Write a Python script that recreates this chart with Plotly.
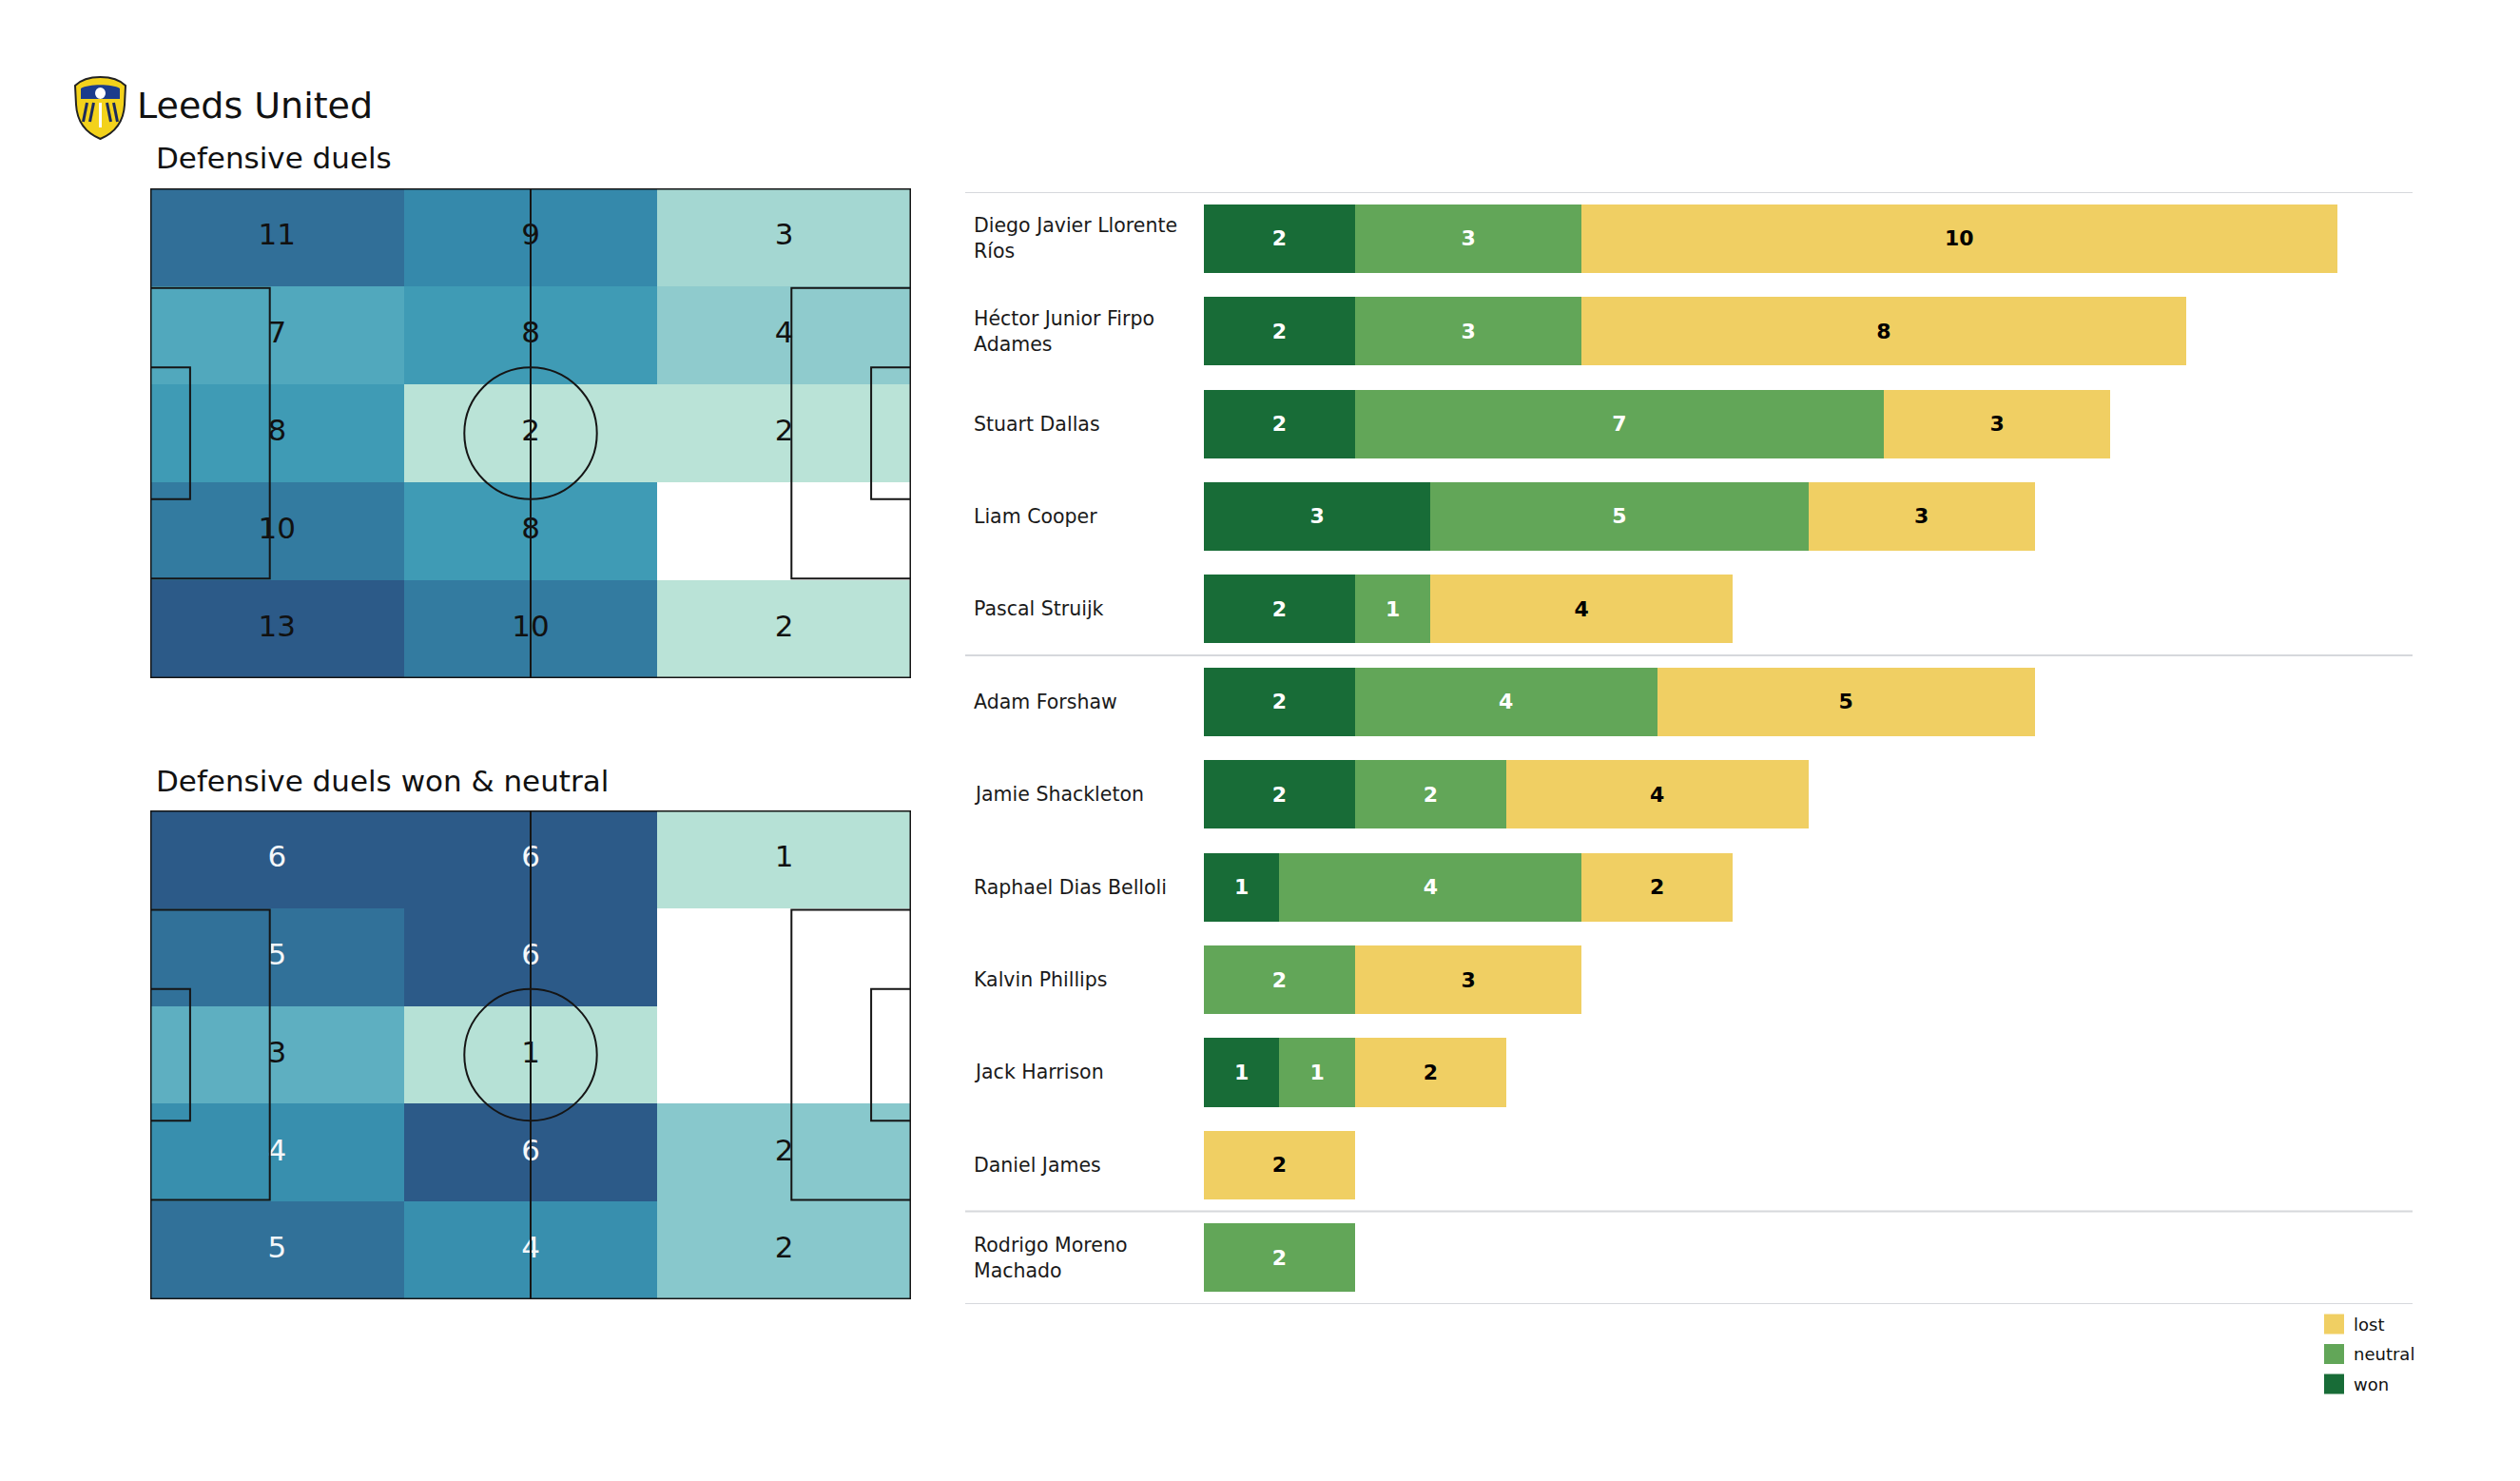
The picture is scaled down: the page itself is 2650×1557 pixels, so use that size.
import textwrap
import plotly.graph_objects as go

W, H = 2650, 1557

TEAM = "Leeds United"
MAP_TITLES = ["Defensive duels", "Defensive duels won & neutral"]

# zone grids: rows from top touchline to bottom, columns left to right
duels_all = [
    [11, 9, 3],
    [7, 8, 4],
    [8, 2, 2],
    [10, 8, 0],
    [13, 10, 2],
]
duels_won_neutral = [
    [6, 6, 1],
    [5, 6, 0],
    [3, 1, 0],
    [4, 6, 2],
    [5, 4, 2],
]

players = [
    "Diego Javier Llorente Ríos", "Héctor Junior Firpo Adames", "Stuart Dallas",
    "Liam Cooper", "Pascal Struijk", "Adam Forshaw", "Jamie Shackleton",
    "Raphael Dias Belloli", "Kalvin Phillips", "Jack Harrison", "Daniel James",
    "Rodrigo Moreno Machado",
]
groups = ["DF"] * 5 + ["MF"] * 6 + ["FW"]
won = [2, 2, 2, 3, 2, 2, 2, 1, 0, 1, 0, 0]
neutral = [3, 3, 7, 5, 1, 4, 2, 4, 2, 1, 0, 2]
lost = [10, 8, 3, 3, 4, 5, 4, 2, 3, 2, 2, 0]
series_names = ["won", "neutral", "lost"]

# ---------------------------------------------------------------- styling
FONT = "DejaVu Sans"
SERIES_COLORS = {"won": "#186c37", "neutral": "#62a658", "lost": "#f0cf63"}
SERIES_TEXT = {"won": "white", "neutral": "white", "lost": "black"}
HEAT_SCALE = [
    [0.0, "#d8f0e2"], [0.154, "#bae3d7"], [0.31, "#8ecbcd"], [0.5, "#5eafc1"],
    [0.54, "#50a8bd"], [0.615, "#3f9bb5"], [0.69, "#3589ab"], [0.77, "#337ba0"],
    [0.846, "#316f98"], [1.0, "#2c5a88"],
]
PITCH_L, PITCH_W = 105.0, 68.0
PEN_D, PEN_W = 16.5, 40.32
SIX_D, SIX_W = 5.5, 18.32
CIRCLE_R = 9.15
LINE = dict(color="#151515", width=2)
OFF = 8  # page body margin of the html page


def px(x):
    return (x - OFF) / W


def py(y):
    return 1 - (y - OFF) / H


def P(x, y):
    return f"{px(x):.5f},{py(y):.5f}"


fig = go.Figure()
shapes = []
annotations = []

# ---------------------------------------------------------------- pitches
pitch_boxes = [(198, 713), (852, 1366)]
pitch_grids = [duels_all, duels_won_neutral]
white_text_threshold = [None, 0.6]
ncols = len(duels_all[0])
nrows = len(duels_all)
x_edges = [PITCH_L * i / ncols for i in range(ncols + 1)]
y_edges = [PITCH_W * i / nrows for i in range(nrows + 1)]
x_cent = [(x_edges[i] + x_edges[i + 1]) / 2 for i in range(ncols)]
y_cent = [(y_edges[i] + y_edges[i + 1]) / 2 for i in range(nrows)]

layout_axes = {}
for k, (grid, (top, bottom)) in enumerate(zip(pitch_grids, pitch_boxes)):
    sfx = "" if k == 0 else str(k + 1)
    xref, yref = "x" + sfx, "y" + sfx
    layout_axes["xaxis" + sfx] = dict(domain=[px(158), px(958)], range=[0, PITCH_L],
                                      visible=False, fixedrange=True)
    layout_axes["yaxis" + sfx] = dict(domain=[py(bottom), py(top)], range=[0, PITCH_W],
                                      visible=False, fixedrange=True)
    rows_bottom_up = grid[::-1]
    zmax = max(max(r) for r in grid)
    z = [[v if v > 0 else None for v in r] for r in rows_bottom_up]
    fig.add_trace(go.Heatmap(
        x=x_edges, y=y_edges, z=z, zmin=0, zmax=zmax, colorscale=HEAT_SCALE,
        showscale=False, xaxis=xref, yaxis=yref, hoverinfo="skip", xgap=0, ygap=0,
        showlegend=False,
    ))
    tx, ty, tt, tc = [], [], [], []
    for r, row in enumerate(rows_bottom_up):
        for c, v in enumerate(row):
            if v <= 0:
                continue
            tx.append(x_cent[c])
            ty.append(y_cent[r])
            tt.append(str(v))
            thr = white_text_threshold[k]
            tc.append("#f4f7fa" if (thr is not None and v / zmax > thr) else "#111111")
    fig.add_trace(go.Scatter(
        x=tx, y=ty, text=tt, mode="text", textposition="middle center",
        textfont=dict(family=FONT, size=31, color=tc), xaxis=xref, yaxis=yref,
        showlegend=False, hoverinfo="skip",
    ))
    cy = PITCH_W / 2

    def rect(x0, y0, x1, y1, width=2):
        shapes.append(dict(type="rect", xref=xref, yref=yref, x0=x0, y0=y0, x1=x1, y1=y1,
                           line=dict(color="#151515", width=width),
                           fillcolor="rgba(0,0,0,0)", layer="above"))

    rect(0, cy - PEN_W / 2, PEN_D, cy + PEN_W / 2)
    rect(PITCH_L - PEN_D, cy - PEN_W / 2, PITCH_L, cy + PEN_W / 2)
    rect(0, cy - SIX_W / 2, SIX_D, cy + SIX_W / 2)
    rect(PITCH_L - SIX_D, cy - SIX_W / 2, PITCH_L, cy + SIX_W / 2)
    shapes.append(dict(type="line", xref=xref, yref=yref, x0=PITCH_L / 2, x1=PITCH_L / 2,
                       y0=0, y1=PITCH_W, line=LINE, layer="above"))
    shapes.append(dict(type="circle", xref=xref, yref=yref,
                       x0=PITCH_L / 2 - CIRCLE_R, x1=PITCH_L / 2 + CIRCLE_R,
                       y0=cy - CIRCLE_R, y1=cy + CIRCLE_R, line=LINE, layer="above"))
    rect(0, 0, PITCH_L, PITCH_W, width=3)

# ---------------------------------------------------------------- bars
values = {"won": won, "neutral": neutral, "lost": lost}
for s in series_names:
    vals = values[s]
    fig.add_trace(go.Bar(
        x=vals, y=players, orientation="h", name=s,
        marker=dict(color=SERIES_COLORS[s], line=dict(width=0)),
        text=[str(v) if v else "" for v in vals], textposition="inside",
        insidetextanchor="middle", textangle=0, constraintext="none",
        textfont=dict(family=FONT, size=22, color=SERIES_TEXT[s], weight="bold"),
        xaxis="x3", yaxis="y3", hoverinfo="x+y+name", showlegend=False,
    ))

n = len(players)
layout_axes["xaxis3"] = dict(domain=[px(1266), px(2537)], range=[0, 16], visible=False,
                             fixedrange=True)
layout_axes["yaxis3"] = dict(domain=[py(1371), py(202)], type="category",
                             categoryarray=players, categoryorder="array",
                             range=[n - 0.5, -0.5], visible=False, fixedrange=True)

bounds = [-0.5] + [i + 0.5 for i in range(n - 1) if groups[i] != groups[i + 1]] + [n - 0.5]
for b in bounds:
    shapes.append(dict(type="line", xref="paper", yref="y3", x0=px(1015), x1=px(2537),
                       y0=b, y1=b, line=dict(color="#d6d8dc", width=2), layer="below"))

for p in players:
    annotations.append(dict(
        xref="paper", yref="y3", x=px(1022), y=p, xanchor="left", yanchor="middle",
        text="<br>".join(textwrap.wrap(p, 21)), align="left", showarrow=False,
        font=dict(family=FONT, size=20.5, color="#1a1a1a"),
    ))

# legend (lost on top), drawn from the series names and colours
for i, s in enumerate(series_names[::-1]):
    yc = 1392 + i * 31.5
    shapes.append(dict(type="rect", xref="paper", yref="paper",
                       x0=px(2444), x1=px(2465), y0=py(yc + 10.5), y1=py(yc - 10.5),
                       fillcolor=SERIES_COLORS[s], line=dict(width=0), layer="above"))
    annotations.append(dict(xref="paper", yref="paper", x=px(2473), y=py(yc), text=s,
                            xanchor="left", yanchor="middle", showarrow=False,
                            font=dict(family=FONT, size=18, color="#111111")))

# ---------------------------------------------------------------- titles
annotations.append(dict(xref="paper", yref="paper", x=px(142), y=py(111), text=TEAM,
                        xanchor="left", yanchor="middle", showarrow=False,
                        font=dict(family=FONT, size=38, color="#111111")))
for t, yy in zip(MAP_TITLES, [166, 821]):
    annotations.append(dict(xref="paper", yref="paper", x=px(162), y=py(yy), text=t,
                            xanchor="left", yanchor="middle", showarrow=False,
                            font=dict(family=FONT, size=31, color="#111111")))

# ---------------------------------------------------------------- crest (decorative)
shield = (f"M {P(105.5, 81)} C {P(118, 81)} {P(127, 85)} {P(132, 90)} "
          f"L {P(131, 110)} C {P(130, 128)} {P(120, 140)} {P(105.5, 146)} "
          f"C {P(91, 140)} {P(81, 128)} {P(80, 110)} L {P(79, 90)} "
          f"C {P(84, 85)} {P(93, 81)} {P(105.5, 81)} Z")
shapes.append(dict(type="path", xref="paper", yref="paper", path=shield,
                   fillcolor="#f3d21b", line=dict(color="#222222", width=2), layer="above"))
inner = (f"M {P(85, 93)} C {P(93, 88)} {P(118, 88)} {P(126, 93)} "
         f"L {P(126, 104)} L {P(85, 104)} Z")
shapes.append(dict(type="path", xref="paper", yref="paper", path=inner,
                   fillcolor="#1c3c8c", line=dict(width=0), layer="above"))
shapes.append(dict(type="circle", xref="paper", yref="paper", x0=px(100), x1=px(111),
                   y0=py(104), y1=py(92), fillcolor="white", line=dict(width=0),
                   layer="above"))
for dx in (-14, -7, 7, 14):
    sx = 105.5 + dx
    sgn = -1 if dx < 0 else 1
    shapes.append(dict(type="line", xref="paper", yref="paper",
                       x0=px(sx), y0=py(108), x1=px(sx + sgn * 4), y1=py(128),
                       line=dict(color="#1c2a5c", width=3), layer="above"))
shapes.append(dict(type="line", xref="paper", yref="paper", x0=px(105.5), y0=py(108),
                   x1=px(105.5), y1=py(134), line=dict(color="#ffffff", width=3),
                   layer="above"))

fig.update_layout(
    width=W, height=H, margin=dict(l=0, r=0, t=0, b=0),
    paper_bgcolor="white", plot_bgcolor="rgba(0,0,0,0)",
    font=dict(family=FONT, color="#111111"),
    barmode="stack", bargap=0.26,
    shapes=shapes, annotations=annotations,
    showlegend=False,
    **layout_axes,
)

fig.write_html("out.html")
